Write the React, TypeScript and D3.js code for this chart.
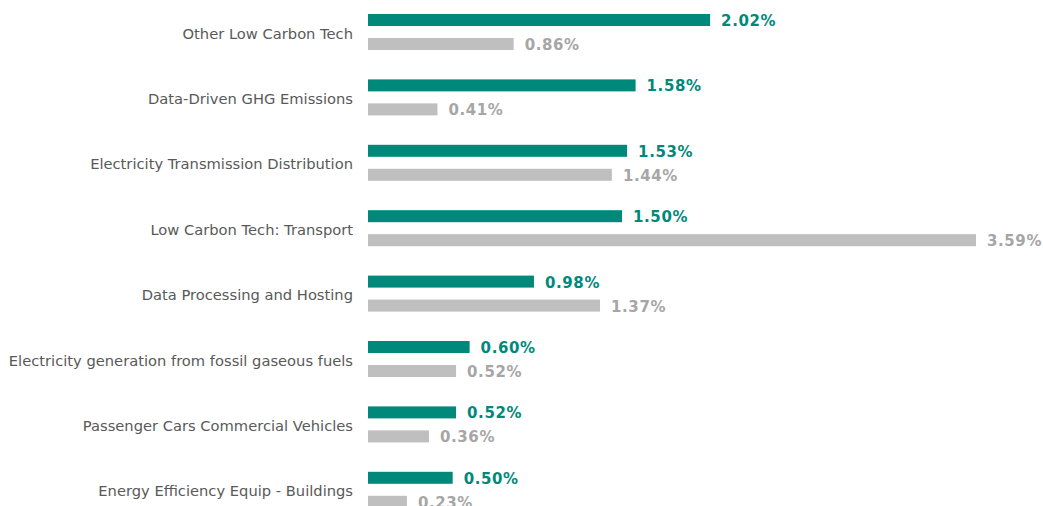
import React, { useEffect, useRef } from "react";
import * as d3 from "d3";

// categories top to bottom
const categories = [
  "Other Low Carbon Tech",
  "Data-Driven GHG Emissions",
  "Electricity Transmission Distribution",
  "Low Carbon Tech: Transport",
  "Data Processing and Hosting",
  "Electricity generation from fossil gaseous fuels",
  "Passenger Cars Commercial Vehicles",
  "Energy Efficiency Equip - Buildings",
];
const seriesA = [2.02, 1.58, 1.53, 1.5, 0.98, 0.6, 0.52, 0.5];
const seriesB = [0.86, 0.41, 1.44, 3.59, 1.37, 0.52, 0.36, 0.23];

const TEAL = "#00897b";
const GREY = "#bfbfbf";
const FONT = "Verdana, 'DejaVu Sans', sans-serif";

const App = () => {
  const svgRef = useRef<SVGSVGElement>(null);

  useEffect(() => {
    const width = 1043;
    const height = 506;
    const left = 368;
    const barH = 12;

    const svg = d3.select(svgRef.current).attr("width", width).attr("height", height);
    svg.selectAll("*").remove();

    const x = d3.scaleLinear().domain([0, 3.59]).range([0, 608]);
    const y = d3
      .scaleBand()
      .domain(categories)
      .range([2, 2 + categories.length * 65.4])
      .paddingInner(0);

    const rows = categories.map((c, i) => ({ c, a: seriesA[i], b: seriesB[i] }));
    const g = svg.selectAll("g.row").data(rows).enter().append("g").attr("class", "row");

    // category labels
    g.append("text")
      .attr("x", 353)
      .attr("y", (d) => y(d.c)! + 32.5)
      .attr("text-anchor", "end")
      .attr("dominant-baseline", "middle")
      .attr("font-family", FONT)
      .attr("font-size", 14.7)
      .attr("fill", "#595959")
      .text((d) => d.c);

    // teal bars
    g.append("rect")
      .attr("x", left)
      .attr("y", (d) => y(d.c)! + 12)
      .attr("width", (d) => x(d.a))
      .attr("height", barH)
      .attr("fill", TEAL);

    // grey bars
    g.append("rect")
      .attr("x", left)
      .attr("y", (d) => y(d.c)! + 36)
      .attr("width", (d) => x(d.b))
      .attr("height", barH)
      .attr("fill", GREY);

    g.append("text")
      .attr("x", (d) => left + x(d.a) + 11)
      .attr("y", (d) => y(d.c)! + 12 + barH / 2 + 1.5)
      .attr("dominant-baseline", "middle")
      .attr("font-family", FONT)
      .attr("font-weight", "bold")
      .attr("font-size", 15)
      .attr("letter-spacing", 0.6)
      .attr("fill", TEAL)
      .text((d) => d.a.toFixed(2) + "%");

    g.append("text")
      .attr("x", (d) => left + x(d.b) + 11)
      .attr("y", (d) => y(d.c)! + 36 + barH / 2 + 1.5)
      .attr("dominant-baseline", "middle")
      .attr("font-family", FONT)
      .attr("font-weight", "bold")
      .attr("font-size", 15)
      .attr("letter-spacing", 0.6)
      .attr("fill", "#a6a6a6")
      .text((d) => d.b.toFixed(2) + "%");
  }, []);

  return <svg ref={svgRef} style={{ position: "absolute", left: 0, top: 0 }}></svg>;
};

export default App;
